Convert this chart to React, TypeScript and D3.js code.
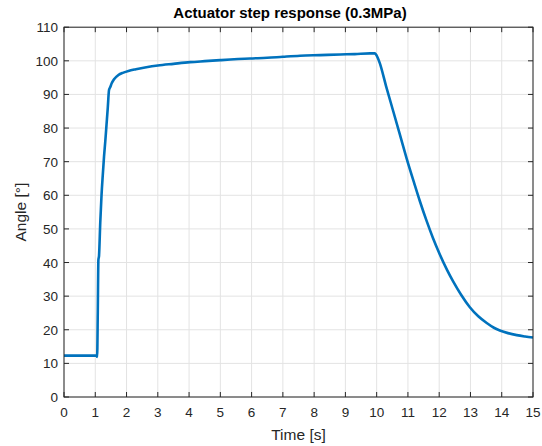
import React from "react";
import * as d3 from "d3";

const title = "Actuator step response (0.3MPa)";
const xLabel = "Time [s]";
const yLabel = "Angle [°]";
const xTicks = d3.range(0, 16, 1);
const yTicks = d3.range(0, 111, 10);

const timeS = [0, 0.5, 1.0, 1.05, 1.06, 1.08, 1.10, 1.12, 1.16, 1.2, 1.24, 1.28, 1.32, 1.36, 1.40, 1.44, 1.48, 1.525, 1.6, 1.74, 1.9, 2.06, 2.3, 2.59, 3.0, 3.5, 4.03, 4.5, 5.0, 5.95, 6.5, 7.0, 7.55, 8.2, 8.83, 9.3, 9.79, 9.93, 9.97, 10.03, 10.1, 10.3, 10.53, 10.75, 10.96, 11.2, 11.38, 11.6, 11.8, 12.02, 12.25, 12.45, 12.7, 12.98, 13.25, 13.52, 13.75, 13.94, 14.2, 14.48, 14.75, 15.0];
const angleDeg = [12.3, 12.3, 12.3, 12.3, 11.9, 25, 40.8, 42, 52, 60, 66, 71.5, 76, 81, 86, 91.3, 92.2, 93.3, 94.5, 95.8, 96.5, 97.0, 97.5, 98.0, 98.6, 99.1, 99.6, 99.9, 100.2, 100.7, 100.9, 101.2, 101.5, 101.7, 101.9, 102.0, 102.2, 102.2, 102.0, 101.0, 99.3, 92.5, 85.0, 77.8, 70.9, 63.6, 58.3, 52.3, 47.3, 42.4, 37.8, 34.3, 30.4, 26.7, 24.0, 22.0, 20.6, 19.8, 19.0, 18.4, 18.0, 17.7];

const W = 542, H = 446;
const M = { left: 64, right: 533, top: 27.2, bottom: 397 };
const FONT = "'Liberation Sans', Arial, Helvetica, sans-serif";

export default function App() {
  const x = d3.scaleLinear().domain([0, 15]).range([M.left, M.right]);
  const y = d3.scaleLinear().domain([0, 110]).range([M.bottom, M.top]);
  const pts: [number, number][] = timeS.map((t, i) => [t, angleDeg[i]]);
  const line = d3.line<[number, number]>().x(d => x(d[0])).y(d => y(d[1])).curve(d3.curveMonotoneX);
  const tk = 5;
  return (
    <svg width={W} height={H} style={{ position: "absolute", left: 0, top: 0, background: "#fff" }}>
      <rect x={0} y={0} width={W} height={H} fill="#fff" />
      <rect x={M.left} y={M.top} width={M.right - M.left} height={M.bottom - M.top} fill="#fff" />
      {xTicks.map(t => (
        <line key={"gx" + t} x1={x(t)} x2={x(t)} y1={M.top} y2={M.bottom} stroke="#e3e3e3" strokeWidth={1} />
      ))}
      {yTicks.map(v => (
        <line key={"gy" + v} x1={M.left} x2={M.right} y1={y(v)} y2={y(v)} stroke="#e3e3e3" strokeWidth={1} />
      ))}
      <path d={line(pts) ?? ""} fill="none" stroke="#0072BD" strokeWidth={2.6} strokeLinejoin="round" />
      <rect x={M.left} y={M.top} width={M.right - M.left} height={M.bottom - M.top} fill="none" stroke="#262626" strokeWidth={1} />
      {xTicks.map(t => (
        <g key={"tx" + t}>
          <line x1={x(t)} x2={x(t)} y1={M.bottom} y2={M.bottom - tk} stroke="#262626" />
          <line x1={x(t)} x2={x(t)} y1={M.top} y2={M.top + tk} stroke="#262626" />
          <text x={x(t)} y={M.bottom + 20} textAnchor="middle" fontFamily={FONT} fontSize={13.5} fill="#262626">{t}</text>
        </g>
      ))}
      {yTicks.map(v => (
        <g key={"ty" + v}>
          <line x1={M.left} x2={M.left + tk} y1={y(v)} y2={y(v)} stroke="#262626" />
          <line x1={M.right} x2={M.right - tk} y1={y(v)} y2={y(v)} stroke="#262626" />
          <text x={M.left - 6} y={y(v) + 5} textAnchor="end" fontFamily={FONT} fontSize={13.5} fill="#262626">{v}</text>
        </g>
      ))}
      <text x={(M.left + M.right) / 2} y={440} textAnchor="middle" fontFamily={FONT} fontSize={15.5} fill="#262626">{xLabel}</text>
      <text transform={`translate(26,${(M.top + M.bottom) / 2}) rotate(-90)`} textAnchor="middle" fontFamily={FONT} fontSize={15.5} fill="#262626">{yLabel}</text>
      <text x={290} y={18} textAnchor="middle" fontFamily={FONT} fontSize={15} fontWeight="bold" fill="#000">{title}</text>
    </svg>
  );
}
